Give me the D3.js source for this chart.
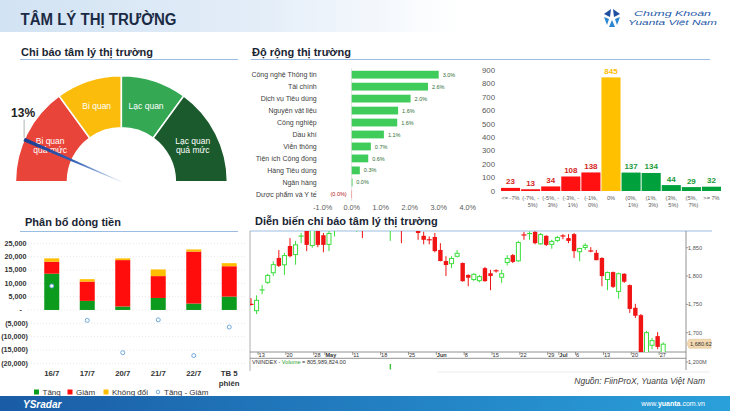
<!DOCTYPE html>
<html><head><meta charset="utf-8">
<script src="https://cdn.jsdelivr.net/npm/d3@7"></script>
<style>
html,body{margin:0;padding:0;background:#fff;}
svg{display:block;font-family:"Liberation Sans",Arial,sans-serif;}
</style></head><body>
<svg id="c" width="730" height="411"></svg>
<script>
// ================= DATA =================
const pageTitle = "TÂM LÝ THỊ TRƯỜNG";
const sectionTitles = ["Chi báo tâm lý thị trường","Độ rộng thị trường","Phân bổ dòng tiền","Diễn biến chỉ báo tâm lý thị trường"];

// Gauge
const gaugeLabelLines = [["Bi quan","quá mức"],["Bi quan"],["Lạc quan"],["Lạc quan","quá mức"]];
const gaugeBreaks = [0, 0.3, 0.5, 0.7, 1];
const gaugeValue = 0.13;

// Sector breadth (horizontal bars)
const sectors = ["Công nghệ Thông tin","Tài chính","Dịch vụ Tiêu dùng","Nguyên vật liệu","Công nghiệp","Dầu khí","Viễn thông","Tiện ích Cộng đồng","Hàng Tiêu dùng","Ngân hàng","Dược phẩm và Y tế"];
const sectorChange = [3.0, 2.63, 2.03, 1.6, 1.57, 1.11, 0.66, 0.57, 0.28, 0.02, -0.02];
const sectorTicks = [-1, 0, 1, 2, 3, 4];

// Distribution of price changes (histogram)
const binLabels = [["<= -7%"],["(-7%, -","5%)"],["(-5%, -","3%)"],["(-3%, -","1%)"],["(-1%,","0%)"],["0%"],["(0%,","1%)"],["(1%,","3%)"],["(3%,","5%)"],["(5%,","7%)"],[">= 7%"]];
const binCounts = [23, 13, 34, 108, 138, 845, 137, 134, 44, 29, 32];
const binTicks = [0,100,200,300,400,500,600,700,800,900];

// Money flow
const flowDates = [["16/7"],["17/7"],["20/7"],["21/7"],["22/7"],["TB 5","phiên"]];
const flowUp   = [13600, 3400, 1300, 4500, 2400, 5000];
const flowDown = [4500, 7250, 17400, 8200, 19500, 11400];
const flowFlat = [1250, 900, 650, 2500, 800, 1150];
const flowNet  = [9000, -3900, -16000, -3700, -17100, -6400];
const flowTicks = [-20000,-15000,-10000,-5000,0,5000,10000,15000,20000,25000];
const flowLegend = ["Tăng","Giảm","Không đổi","Tăng - Giảm"];

// VNINDEX candles (trading days, Apr 10 .. Jul 28)
const cOpen  = [1750.5,1738,1775,1788,1805,1832,1819,1853,1837,1870,1885,1853,1895,1872,1855,1885,1893,1900,1910,1900,1915,1898,1910,1920,1915,1900,1922,1930,1905,1912,1890,1871,1864.5,1869,1846,1826.5,1821,1834,1823,1802,1793,1791,1814,1805,1809.5,1797,1823,1837,1826,1873,1874,1878,1856,1871,1855,1862,1871,1867,1874,1842,1849.5,1844.5,1841,1832,1793,1807,1772,1804,1784,1744,1731,1660,1677,1694,1662];
const cHigh  = [1761,1766,1784,1804,1826,1846,1841,1867,1862,1876,1892,1895,1900,1876,1880,1900,1905,1915,1918,1920,1920,1915,1925,1930,1932,1928,1935,1935,1918,1915,1895,1878,1870,1876,1858,1835,1835,1846,1824,1803,1805,1802,1816,1811,1812,1811,1837,1839,1862,1878,1879,1879,1876,1872,1864,1871,1874,1874,1876,1850,1858,1851,1846,1833,1808,1808,1806,1805,1785,1751,1733,1703,1691,1701,1683];
const cLow   = [1748,1733,1768,1786,1800,1816,1802,1833,1820,1858,1844,1850,1851,1842,1844,1870,1884,1890,1895,1878,1867,1890,1900,1905,1908,1862,1912,1858,1895,1888,1864,1856,1856,1842,1826,1800,1814,1833,1790,1782,1791,1789,1790,1775,1806,1788,1819,1823,1825,1864,1864,1856,1855,1853,1848,1860,1865,1858,1832,1826,1846,1842,1828,1782,1775,1779,1760,1788,1735,1726,1650,1655,1671,1671,1658];
const cClose = [1749.5,1758,1776,1802,1821,1818,1837,1835,1856,1871,1855,1890,1855,1855,1876,1895,1900,1910,1905,1912,1898,1910,1920,1915,1925,1922,1930,1905,1912,1900,1876,1864,1863.5,1844,1826.5,1819.5,1832,1841,1791,1797,1804,1800,1791,1800,1809,1805,1832,1825,1860,1872,1876,1858,1874,1855,1862,1869,1870.5,1862,1844,1849.5,1855,1844,1828,1800,1807,1781,1805,1790,1742,1730,1655,1701,1687,1675,1680.62];
const priceTicks = [1700,1750,1800,1850];
const lastPrice = 1680.62;
const dateTickIdx = [1,6,11,13,18,23,28,33,38,43,48,53,55,58,63,68,73];
const dateTickLbl = ["'13","'20","'28","May","'11","'18","'25","Jun","'8","'15","'22","'29","Jul","'6","'13","'20","'27"];
const volIdx = [25];
const volVal = [1150];   // millions, only bar reaching the visible volume pane
const volText = "805,989,824.00";

// ================= DRAW =================
const svg = d3.select("#c");
const defs = svg.append("defs");
const TXT = "#1a2533";

// header band
const hg = defs.append("linearGradient").attr("id","hg");
hg.append("stop").attr("offset","0").attr("stop-color","#d2e3f3");
hg.append("stop").attr("offset","0.35").attr("stop-color","#e3edf8");
hg.append("stop").attr("offset","0.63").attr("stop-color","#ffffff");
svg.append("rect").attr("x",0).attr("y",0).attr("width",730).attr("height",32).attr("fill","url(#hg)");
svg.append("text").attr("x",20.5).attr("y",25).attr("font-size",16).attr("font-weight","bold").attr("fill","#1c2b45")
  .attr("textLength",156).attr("lengthAdjust","spacingAndGlyphs").text(pageTitle);

// logo
const lg = svg.append("g").attr("transform","translate(612,18)");
lg.append("path").attr("d","M-1,-9 L-8,-4 L-2,-1 Z").attr("fill","#1f4fa0");
lg.append("path").attr("d","M1,-9 L8,-4 L2,-1 Z").attr("fill","#1f4fa0");
lg.append("path").attr("d","M-8,-1 L-3,1 L-5,7 Z").attr("fill","#2a86d0");
lg.append("path").attr("d","M8,-1 L3,1 L5,7 Z").attr("fill","#2a86d0");
lg.append("path").attr("d","M0,2 L3,9 L-3,9 Z").attr("fill","#2a86d0");
svg.append("text").attr("x",634).attr("y",15.6).attr("font-size",8).attr("font-style","italic").attr("fill","#1f5aa8").attr("textLength",77).attr("lengthAdjust","spacingAndGlyphs").text("Chứng Khoán");
svg.append("text").attr("x",628).attr("y",24.8).attr("font-size",8).attr("font-style","italic").attr("fill","#1f5aa8").attr("textLength",89).attr("lengthAdjust","spacingAndGlyphs").text("Yuanta Việt Nam");

// section titles
const secPos = [[21,55.5,20,238,59.5],[252,55.5,251,710,59.5],[25,226,20,238,231.5],[255,225,250,712,231]];
sectionTitles.forEach((t,i)=>{
  const p = secPos[i];
  svg.append("text").attr("x",p[0]).attr("y",p[1]).attr("font-size",11).attr("font-weight","bold").attr("fill",TXT).text(t);
  svg.append("line").attr("x1",p[2]).attr("x2",p[3]).attr("y1",p[4]).attr("y2",p[4]).attr("stroke","#9bbde3").attr("stroke-width",1.2);
});

// ---------- Gauge ----------
{
  const gx=121.4, gy=181.7, rIn=54, rOut=106;
  const colors = ["#e9443a","#fbbc0b","#34a853","#1b5a2c"];
  const ang = d3.scaleLinear().domain([0,1]).range([-Math.PI/2, Math.PI/2]);
  const arc = d3.arc().innerRadius(rIn).outerRadius(rOut);
  const mid = d3.arc().innerRadius(80).outerRadius(80);
  const g = svg.append("g").attr("transform",`translate(${gx},${gy})`);
  gaugeLabelLines.forEach((lines,i)=>{
    const d = {startAngle:ang(gaugeBreaks[i]), endAngle:ang(gaugeBreaks[i+1])};
    g.append("path").attr("d",arc(d)).attr("fill",colors[i]).attr("stroke","#fff").attr("stroke-width",1.5);
    const c = mid.centroid(d);
    lines.forEach((l,j)=>{
      g.append("text").attr("x",c[0]).attr("y",c[1] + (j - (lines.length-1)/2)*9.5).attr("dy","0.35em")
        .attr("text-anchor","middle").attr("font-size",8.5).attr("fill","#fff").text(l);
    });
  });
  const a = ang(gaugeValue);
  const dir = [Math.sin(a), -Math.cos(a)], nrm = [Math.cos(a), Math.sin(a)];
  const tip = [dir[0]*rOut, dir[1]*rOut];
  const ng = defs.append("linearGradient").attr("id","ng").attr("gradientUnits","userSpaceOnUse")
    .attr("x1",tip[0]).attr("y1",tip[1]).attr("x2",0).attr("y2",0);
  ng.append("stop").attr("offset","0").attr("stop-color","#1a3d8f");
  ng.append("stop").attr("offset","0.5").attr("stop-color","#2f5db5");
  ng.append("stop").attr("offset","1").attr("stop-color","#e3ebf8");
  const w1=1.9, w0=0.3;
  const pts = [[tip[0]+nrm[0]*w1, tip[1]+nrm[1]*w1],[tip[0]-nrm[0]*w1, tip[1]-nrm[1]*w1],[-nrm[0]*w0,-nrm[1]*w0],[nrm[0]*w0,nrm[1]*w0]];
  g.append("path").attr("d","M"+pts.map(p=>p.join(",")).join("L")+"Z").attr("fill","url(#ng)");
  g.append("line").attr("x1",tip[0]).attr("x2",tip[0]).attr("y1",tip[1]-2).attr("y2",tip[1]-20).attr("stroke","#a0a0a0").attr("stroke-width",0.8);
  g.append("text").attr("x",tip[0]-1).attr("y",tip[1]-23).attr("text-anchor","middle").attr("font-size",12).attr("font-weight","bold").attr("fill","#222")
    .text(Math.round(gaugeValue*100)+"%");
}

// ---------- Sector bars ----------
{
  const x = d3.scaleLinear().domain([-1,4]).range([322.7,467.7]);
  const y = d3.scalePoint().domain(sectors).range([68.7,200.3]).padding(0.5);
  const g = svg.append("g");
  g.append("line").attr("x1",x(0)).attr("x2",x(0)).attr("y1",68).attr("y2",201).attr("stroke","#d9d9d9").attr("stroke-width",0.8);
  const fmt = v => { const s = Math.abs(v).toFixed(1)+"%"; return v<0 ? "("+s+")" : s; };
  sectors.forEach((s,i)=>{
    const v = sectorChange[i], cy = y(s);
    g.append("text").attr("x",316.7).attr("y",cy).attr("dy","0.35em").attr("text-anchor","end").attr("font-size",7).attr("fill","#404040").text(s);
    g.append("rect").attr("x",Math.min(x(0),x(v))).attr("y",cy-3.9).attr("width",Math.max(0.8,Math.abs(x(v)-x(0)))).attr("height",7.8)
      .attr("fill", v<0 ? "#f4a0a0" : "#3fcc5a");
    if (v>=0) g.append("text").attr("x",x(v)+4).attr("y",cy).attr("dy","0.38em").attr("font-size",5.5).attr("fill","#2f6e36").text(fmt(v));
    else g.append("text").attr("x",x(0)-5).attr("y",cy).attr("dy","0.38em").attr("text-anchor","end").attr("font-size",5.5).attr("fill","#b02020").text(fmt(v));
  });
  sectorTicks.forEach(t=>{
    g.append("text").attr("x",x(t)).attr("y",209.5).attr("text-anchor","middle").attr("font-size",7.3).attr("fill","#595959").text(t.toFixed(1)+"%");
  });
}

// ---------- Histogram ----------
{
  const x = d3.scaleBand().domain(d3.range(binCounts.length)).range([501,721]).paddingInner(0.05).paddingOuter(0);
  const y = d3.scaleLinear().domain([0,900]).range([191,70]);
  const g = svg.append("g");
  const col = i => i<5 ? "#ff1111" : (i===5 ? "#ffc000" : "#00a03c");
  const tcol = i => i<5 ? "#d3281c" : (i===5 ? "#ffbb00" : "#1a9a3a");
  binTicks.forEach(t=>{
    g.append("text").attr("x",495).attr("y",y(t)).attr("dy","0.35em").attr("text-anchor","end").attr("font-size",7.8).attr("fill","#595959").text(t);
  });
  binCounts.forEach((v,i)=>{
    g.append("rect").attr("x",x(i)).attr("y",y(v)).attr("width",x.bandwidth()).attr("height",y(0)-y(v)).attr("fill",col(i));
    g.append("text").attr("x",x(i)+x.bandwidth()/2).attr("y",y(v)-3.5).attr("text-anchor","middle").attr("font-size",8).attr("font-weight","bold").attr("fill",tcol(i)).text(v);
    binLabels[i].forEach((l,j)=>{
      g.append("text").attr("x",x(i)+x.bandwidth()/2+(j===1?2:0)).attr("y",199.5+j*7.5).attr("text-anchor","middle").attr("font-size",5.6).attr("fill","#595959").text(l);
    });
  });
}

// ---------- Money flow ----------
{
  const x = d3.scaleBand().domain(d3.range(flowDates.length)).range([34,247]);
  const y = d3.scaleLinear().domain([-20000,25000]).range([363.3,243.3]);
  const g = svg.append("g");
  const bw = 15;
  flowTicks.forEach(t=>{
    g.append("line").attr("x1",28).attr("x2",245).attr("y1",y(t)).attr("y2",y(t)).attr("stroke","#e0e0e0").attr("stroke-width",0.7).attr("stroke-dasharray","1,2");
    const lbl = t===0 ? "-" : (t<0 ? "("+d3.format(",")(-t)+")" : d3.format(",")(t));
    g.append("text").attr("x", t===0 ? 22 : (t<0 ? 28 : 26.5)).attr("y",y(t)).attr("dy","0.35em").attr("text-anchor","end")
      .attr("font-size",7.2).attr("font-weight","bold").attr("fill","#333").text(lbl);
  });
  const cols = ["#0d9b1e","#ff0d0d","#ffbf00"];
  flowDates.forEach((d,i)=>{
    const cx = x(i)+x.bandwidth()/2;
    let base = 0;
    [flowUp[i],flowDown[i],flowFlat[i]].forEach((v,k)=>{
      g.append("rect").attr("x",cx-bw/2).attr("y",y(base+v)).attr("width",bw).attr("height",y(base)-y(base+v)).attr("fill",cols[k]);
      base += v;
    });
    g.append("circle").attr("cx",cx).attr("cy",y(flowNet[i])).attr("r",2).attr("fill","#fff").attr("stroke","#6fa8dc").attr("stroke-width",1);
    d.forEach((l,j)=>{
      g.append("text").attr("x",cx).attr("y",376+j*9.5).attr("text-anchor","middle").attr("font-size",7.8).attr("font-weight","bold").attr("fill","#333").text(l);
    });
  });
  // legend
  const lx = [36.5,70,106,158];
  flowLegend.forEach((l,k)=>{
    if (k<3) g.append("rect").attr("x",lx[k]-2.5).attr("y",389.5).attr("width",5).attr("height",5).attr("fill",cols[k]);
    else g.append("circle").attr("cx",lx[k]).attr("cy",392).attr("r",1.8).attr("fill","#fff").attr("stroke","#6fa8dc").attr("stroke-width",0.9);
    g.append("text").attr("x",lx[k]+6).attr("y",392).attr("dy","0.35em").attr("font-size",8).attr("fill","#333").text(l);
  });
}

// ---------- Candlestick ----------
{
  const left=250, right=686, top=231, bot=352;
  const x = d3.scaleLinear().domain([0,74]).range([251,663.2]);
  const y = d3.scaleLinear().domain([1666,1879.5]).range([bot,top]);
  const g = svg.append("g");
  defs.append("clipPath").attr("id","cp").append("rect").attr("x",left).attr("y",top).attr("width",right-left).attr("height",bot-top);
  g.append("line").attr("x1",left).attr("x2",left).attr("y1",top).attr("y2",371).attr("stroke","#9a9a9a").attr("stroke-width",0.8);
  g.append("line").attr("x1",right).attr("x2",right).attr("y1",top).attr("y2",370).attr("stroke","#777").attr("stroke-width",0.8);
  g.append("line").attr("x1",left).attr("x2",right).attr("y1",bot).attr("y2",bot).attr("stroke","#777").attr("stroke-width",0.8);
  g.append("line").attr("x1",left).attr("x2",right).attr("y1",358.3).attr("y2",358.3).attr("stroke","#777").attr("stroke-width",0.8);
  g.append("line").attr("x1",438).attr("x2",710).attr("y1",372).attr("y2",372).attr("stroke","#ececec").attr("stroke-width",1);
  const cg = g.append("g").attr("clip-path","url(#cp)");
  const up="#3ede3e", dn="#f01414";
  cOpen.forEach((o,i)=>{
    const c = cClose[i], h = cHigh[i], l = cLow[i];
    const isUp = c>=o, col = isUp?up:dn, cx = x(i);
    cg.append("line").attr("x1",cx).attr("x2",cx).attr("y1",y(h)).attr("y2",y(l)).attr("stroke",col).attr("stroke-width",1);
    const yt = y(Math.max(o,c)), yb = y(Math.min(o,c));
    if (yb-yt < 1.2) {
      cg.append("rect").attr("x",cx-2.5).attr("y",(yt+yb)/2-0.6).attr("width",5).attr("height",1.2).attr("fill",col);
    } else if (isUp) {
      cg.append("rect").attr("x",cx-2).attr("y",yt+0.5).attr("width",4).attr("height",yb-yt-1).attr("fill","#fff").attr("stroke",col).attr("stroke-width",1);
    } else {
      cg.append("rect").attr("x",cx-2.2).attr("y",yt).attr("width",4.4).attr("height",yb-yt).attr("fill",col);
    }
  });
  // right axis
  priceTicks.forEach(t=>{
    g.append("line").attr("x1",right).attr("x2",right+2.5).attr("y1",y(t)).attr("y2",y(t)).attr("stroke","#777").attr("stroke-width",0.7);
    g.append("text").attr("x",right+2).attr("y",y(t)).attr("dy","0.35em").attr("font-size",5.6).attr("fill","#555").text(d3.format(",")(t));
  });
  const ly = y(lastPrice);
  g.append("path").attr("d",`M${right+1},${ly} L${right+3},${ly-4.5} L${right+25},${ly-4.5} L${right+25},${ly+4.5} L${right+3},${ly+4.5} Z`).attr("fill","#f3d9b1").attr("stroke","#d8b888").attr("stroke-width",0.5);
  g.append("text").attr("x",right+4).attr("y",ly).attr("dy","0.35em").attr("font-size",5.6).attr("fill","#333").text(d3.format(",.2f")(lastPrice));
  // date ticks
  dateTickIdx.forEach((idx,k)=>{
    const tx = x(idx)+1.5;
    const isMonth = !dateTickLbl[k].startsWith("'");
    g.append("line").attr("x1",tx).attr("x2",tx).attr("y1",bot).attr("y2",bot+3).attr("stroke","#555").attr("stroke-width",0.6);
    g.append("text").attr("x",tx+0.5).attr("y",357).attr("font-size",5.6).attr("font-weight",isMonth?"bold":"normal").attr("fill","#333").text(dateTickLbl[k].replace("'",""));
  });
  // volume pane
  const yv = d3.scaleLinear().domain([1000,1200]).range([370,362]);
  g.append("line").attr("x1",right).attr("x2",right+2.5).attr("y1",yv(1200)).attr("y2",yv(1200)).attr("stroke","#777").attr("stroke-width",0.7);
  g.append("text").attr("x",right+2).attr("y",yv(1200)).attr("dy","0.35em").attr("font-size",5.6).attr("fill","#555").text("1,200M");
  volIdx.forEach((idx,k)=>{
    g.append("rect").attr("x",x(idx)-0.6).attr("y",yv(volVal[k])).attr("width",1.4).attr("height",Math.max(0,369.5-yv(volVal[k]))).attr("fill","#3ec03e");
  });
  const vt = g.append("text").attr("x",252).attr("y",362).attr("dy","0.35em").attr("font-size",5.6).attr("fill","#333");
  vt.append("tspan").text("VNINDEX - ");
  vt.append("tspan").attr("fill","#2aa02a").text("Volume");
  vt.append("tspan").text(" = "+volText);
}

// source
svg.append("text").attr("x",705).attr("y",384).attr("text-anchor","end").attr("font-size",8.5).attr("font-style","italic").attr("fill","#404040").text("Nguồn: FiinProX, Yuanta Việt Nam");

// footer
const fg = defs.append("linearGradient").attr("id","fg");
fg.append("stop").attr("offset","0").attr("stop-color","#1a5ca6");
fg.append("stop").attr("offset","1").attr("stop-color","#2aa0da");
svg.append("rect").attr("x",0).attr("y",396).attr("width",730).attr("height",15).attr("fill","url(#fg)");
svg.append("text").attr("x",23).attr("y",407.5).attr("font-size",10).attr("font-style","italic").attr("font-weight","bold").attr("fill","#fff").text("YSradar");
const ft = svg.append("text").attr("x",705).attr("y",406).attr("text-anchor","end").attr("font-size",7).attr("fill","#fff");
ft.append("tspan").text("www.");
ft.append("tspan").attr("font-weight","bold").text("yuanta");
ft.append("tspan").text(".com.vn");
</script>
</body></html>
